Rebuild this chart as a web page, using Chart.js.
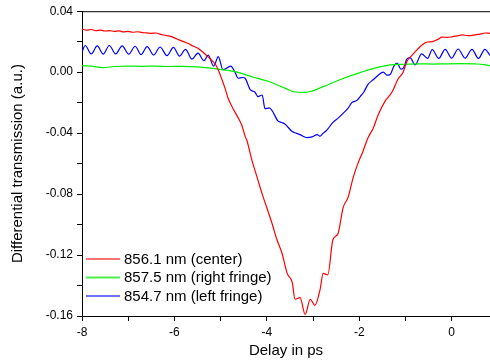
<!DOCTYPE html>
<html lang="en">
<head>
    <meta charset="UTF-8">
    <title>Differential transmission</title>
    <script src="https://cdn.jsdelivr.net/npm/chart.js"></script>
    <style>
        body { margin: 0; background: #fff; }
    </style>
</head>
<body>
    <canvas id="dtChart" width="490" height="363"></canvas>
    <script>
        // Delay (ps) / value pairs
        const seriesLabels = ['856.1 nm (center)', '857.5 nm (right fringe)', '854.7 nm (left fringe)'];

        const redX = [-8.00, -7.90, -7.80, -7.70, -7.60, -7.50, -7.40, -7.30, -7.20, -7.10, -7.00, -6.90, -6.80, -6.70, -6.60, -6.50, -6.40, -6.30, -6.20, -6.10, -6.00, -5.90, -5.80, -5.70, -5.60, -5.50, -5.40, -5.30, -5.20, -5.10, -5.01, -4.90, -4.84, -4.73, -4.62, -4.54, -4.47, -4.43, -4.32, -4.21, -4.10, -4.00, -3.89, -3.78, -3.67, -3.56, -3.45, -3.39, -3.28, -3.17, -3.06, -2.96, -2.85, -2.78, -2.68, -2.57, -2.46, -2.35, -2.24, -2.13, -2.03, -1.92, -1.81, -1.70, -1.59, -1.44, -1.29, -1.16, -1.05, -0.97, -0.86, -0.75, -0.64, -0.53, -0.42, -0.30, -0.21, -0.10, 0.01, 0.12, 0.23, 0.35, 0.51, 0.62, 0.72, 0.83];
        const redY = [0.0283, 0.0276, 0.0280, 0.0273, 0.0276, 0.0270, 0.0272, 0.0268, 0.0271, 0.0264, 0.0267, 0.0262, 0.0265, 0.0260, 0.0258, 0.0255, 0.0257, 0.0248, 0.0242, 0.0236, 0.0225, 0.0212, 0.0200, 0.0188, 0.0172, 0.0158, 0.0135, 0.0108, 0.0080, 0.0045, -0.0017, -0.0110, -0.0170, -0.0240, -0.0300, -0.0350, -0.0420, -0.0450, -0.0580, -0.0690, -0.0800, -0.0890, -0.0990, -0.1100, -0.1190, -0.1320, -0.1380, -0.1490, -0.1480, -0.1590, -0.1490, -0.1530, -0.1430, -0.1320, -0.1330, -0.1100, -0.1060, -0.0890, -0.0820, -0.0690, -0.0600, -0.0520, -0.0430, -0.0370, -0.0280, -0.0190, -0.0130, -0.0045, 0.0000, 0.0068, 0.0110, 0.0146, 0.0178, 0.0198, 0.0200, 0.0215, 0.0230, 0.0228, 0.0232, 0.0238, 0.0244, 0.0240, 0.0245, 0.0250, 0.0257, 0.0255];

        const greenX = [-8.00, -7.80, -7.55, -7.30, -7.00, -6.70, -6.40, -6.10, -5.80, -5.50, -5.12, -4.69, -4.32, -3.97, -3.61, -3.39, -3.20, -3.06, -2.78, -2.42, -2.05, -1.70, -1.33, -1.00, -0.70, -0.40, -0.10, 0.20, 0.50, 0.70, 0.83];
        const greenY = [0.0042, 0.0040, 0.0030, 0.0037, 0.0040, 0.0038, 0.0040, 0.0037, 0.0038, 0.0035, 0.0023, 0.0003, -0.0030, -0.0060, -0.0105, -0.0130, -0.0133, -0.0127, -0.0095, -0.0050, -0.0010, 0.0023, 0.0048, 0.0052, 0.0055, 0.0053, 0.0055, 0.0056, 0.0054, 0.0050, 0.0042];

        const blueX = [-8.00, -7.93, -7.80, -7.67, -7.54, -7.41, -7.27, -7.13, -6.99, -6.85, -6.72, -6.59, -6.45, -6.31, -6.16, -6.02, -5.89, -5.76, -5.62, -5.49, -5.36, -5.27, -5.15, -5.05, -4.95, -4.78, -4.69, -4.62, -4.52, -4.47, -4.36, -4.26, -4.19, -4.10, -4.04, -3.95, -3.89, -3.76, -3.68, -3.61, -3.45, -3.37, -3.28, -3.13, -3.02, -2.91, -2.85, -2.78, -2.70, -2.57, -2.45, -2.35, -2.25, -2.16, -2.05, -1.98, -1.90, -1.81, -1.70, -1.59, -1.48, -1.40, -1.33, -1.25, -1.18, -1.10, -1.05, -0.97, -0.90, -0.79, -0.65, -0.52, -0.42, -0.28, -0.14, 0.00, 0.14, 0.29, 0.44, 0.58, 0.72, 0.83];
        const blueY = [0.0133, 0.0175, 0.0120, 0.0172, 0.0118, 0.0175, 0.0120, 0.0172, 0.0118, 0.0170, 0.0115, 0.0168, 0.0112, 0.0165, 0.0108, 0.0162, 0.0105, 0.0150, 0.0085, 0.0125, 0.0075, 0.0112, 0.0040, 0.0102, 0.0016, 0.0040, 0.0000, -0.0040, -0.0035, -0.0040, -0.0115, -0.0130, -0.0160, -0.0150, -0.0240, -0.0235, -0.0250, -0.0320, -0.0330, -0.0340, -0.0390, -0.0400, -0.0410, -0.0430, -0.0425, -0.0410, -0.0420, -0.0400, -0.0380, -0.0330, -0.0300, -0.0270, -0.0240, -0.0200, -0.0185, -0.0160, -0.0130, -0.0080, -0.0050, -0.0020, 0.0000, -0.0020, -0.0015, 0.0040, 0.0060, 0.0020, 0.0025, 0.0085, 0.0095, 0.0048, 0.0120, 0.0090, 0.0148, 0.0090, 0.0150, 0.0092, 0.0152, 0.0092, 0.0150, 0.0090, 0.0150, 0.0110];

        const seriesColors = ['#ff0000', '#00ee00', '#0000ff'];
        const legendColors = ['rgba(255,0,0,0.55)', 'rgba(0,230,0,0.7)', 'rgba(0,0,255,0.55)'];

        const toPoints = (xs, ys) => xs.map((x, i) => ({ x: x, y: ys[i] }));

        const fontName = '"Liberation Sans", Arial, sans-serif';

        // legend inside the plot, bottom left, plus the top frame line
        const framePlugin = {
            id: 'frame',
            afterDraw(chart) {
                const ctx = chart.ctx;
                const area = chart.chartArea;
                ctx.save();
                ctx.strokeStyle = '#000';
                ctx.lineWidth = 1;
                ctx.beginPath();
                ctx.moveTo(area.left, area.top + 0.5);
                ctx.lineTo(area.right, area.top + 0.5);
                ctx.stroke();

                ctx.font = '15px ' + fontName;
                ctx.textBaseline = 'middle';
                ctx.fillStyle = '#000';
                const rowY = [259, 277.5, 296];
                chart.data.datasets.forEach((ds, i) => {
                    ctx.strokeStyle = legendColors[i];
                    ctx.lineWidth = 2;
                    ctx.beginPath();
                    ctx.moveTo(86, rowY[i]);
                    ctx.lineTo(120, rowY[i]);
                    ctx.stroke();
                    ctx.fillText(ds.label, 124, rowY[i] + 0.5);
                });
                ctx.restore();
            }
        };

        const ctx = document.getElementById('dtChart').getContext('2d');
        new Chart(ctx, {
            type: 'line',
            data: {
                datasets: [
                    { label: seriesLabels[0], data: toPoints(redX, redY), borderColor: seriesColors[0] },
                    { label: seriesLabels[1], data: toPoints(greenX, greenY), borderColor: seriesColors[1] },
                    { label: seriesLabels[2], data: toPoints(blueX, blueY), borderColor: seriesColors[2] }
                ]
            },
            options: {
                responsive: false,
                animation: false,
                layout: { padding: { top: 9, right: 0, left: 0, bottom: 0 } },
                elements: {
                    point: { radius: 0 },
                    line: { borderWidth: 1.2, cubicInterpolationMode: 'monotone', fill: false }
                },
                plugins: {
                    legend: { display: false },
                    tooltip: { enabled: false }
                },
                scales: {
                    x: {
                        type: 'linear',
                        min: -8,
                        max: 0.83,
                        afterFit: s => { s.height = 47; },
                        border: { color: '#000', width: 1 },
                        grid: { drawOnChartArea: false, tickLength: 5, tickColor: '#000' },
                        ticks: {
                            stepSize: 1,
                            includeBounds: false,
                            padding: 4,
                            color: '#000',
                            font: { family: fontName, size: 12 },
                            maxRotation: 0,
                            autoSkip: false,
                            callback: v => (Math.round(v) % 2 === 0 ? String(Math.round(v)) : '')
                        },
                        title: {
                            display: true,
                            text: 'Delay in ps',
                            color: '#000',
                            font: { family: fontName, size: 15 },
                            padding: { top: 0, bottom: 3 }
                        }
                    },
                    y: {
                        min: -0.16,
                        max: 0.04,
                        afterFit: s => { s.width = 82; },
                        border: { color: '#000', width: 1 },
                        grid: { drawOnChartArea: false, tickLength: 5, tickColor: '#000' },
                        ticks: {
                            stepSize: 0.02,
                            padding: 4,
                            color: '#000',
                            font: { family: fontName, size: 12 },
                            autoSkip: false,
                            callback: v => (Math.round(v * 100) % 4 === 0 ? v.toFixed(2) : '')
                        },
                        title: {
                            display: true,
                            text: 'Differential transmission (a.u.)',
                            color: '#000',
                            font: { family: fontName, size: 15 },
                            padding: { top: 9, bottom: 0 }
                        }
                    }
                }
            },
            plugins: [framePlugin]
        });
    </script>
</body>
</html>
